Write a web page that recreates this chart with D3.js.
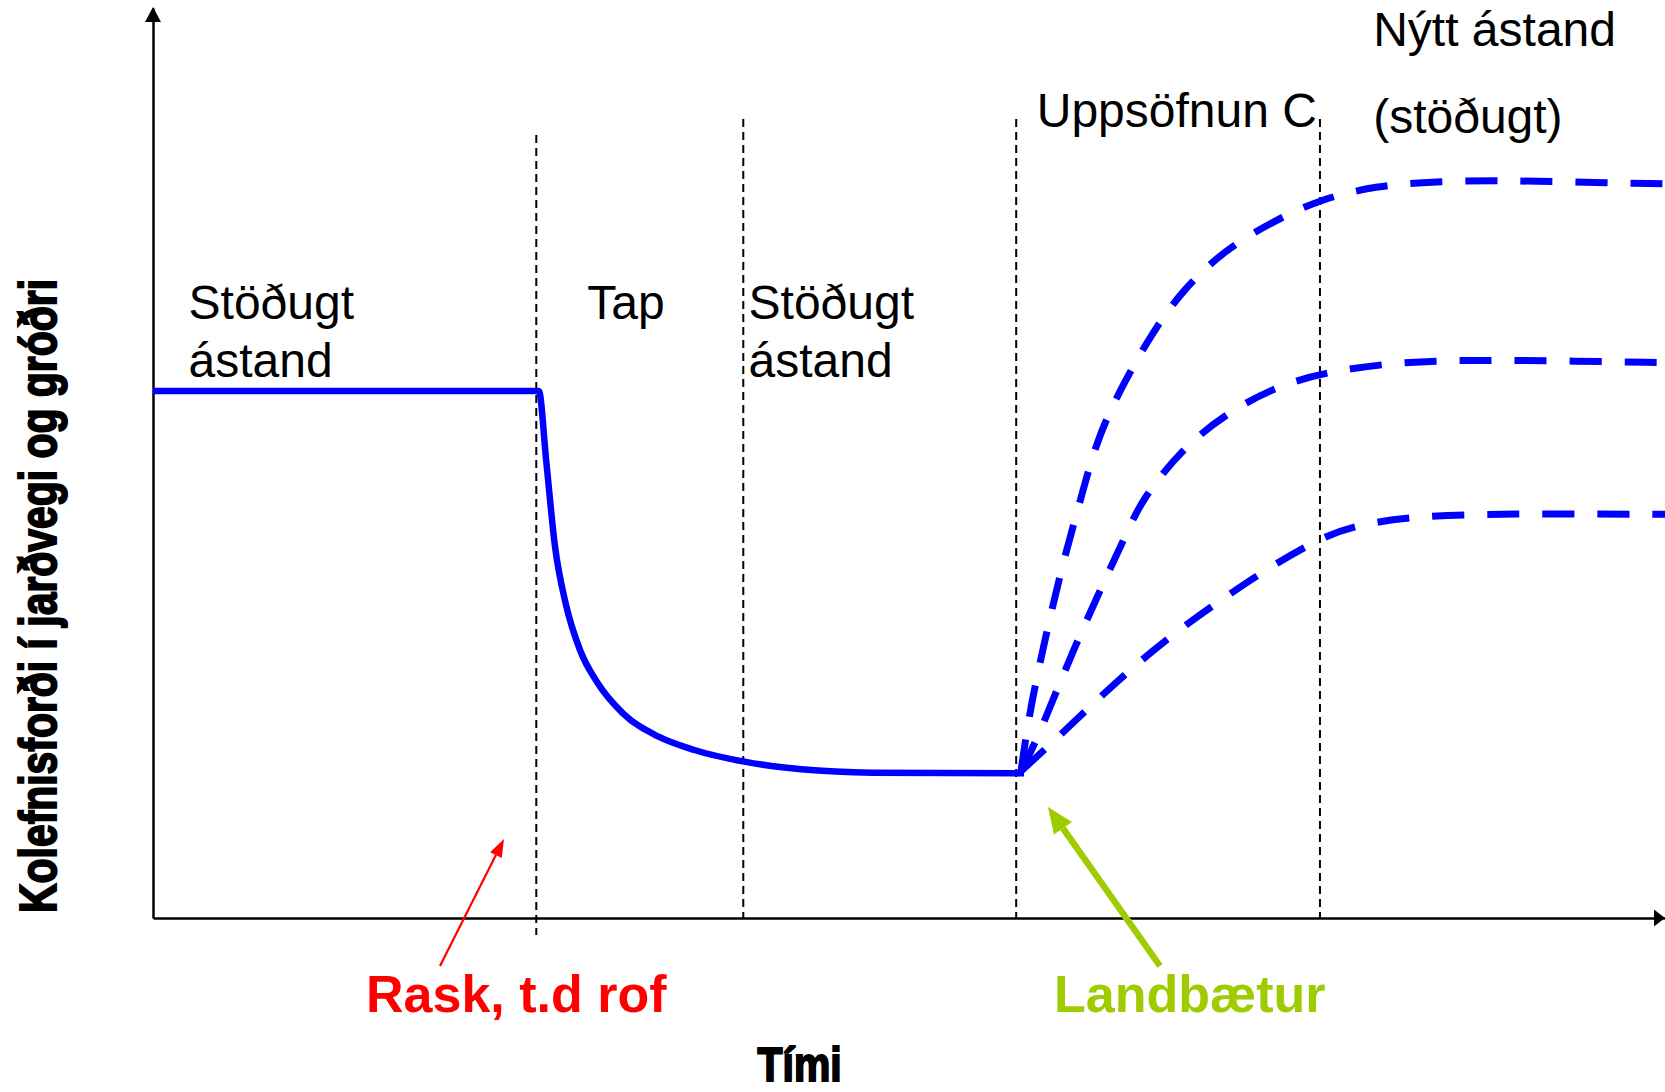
<!DOCTYPE html>
<html>
<head>
<meta charset="utf-8">
<script src="https://cdn.jsdelivr.net/npm/d3@7"></script>
<style>
  body { margin: 0; background: #fff; }
  svg { display: block; }
  .lbl { font-family: "Liberation Sans", Arial, sans-serif; font-size: 48px; fill: #000; }
  .heavy { font-family: "Liberation Sans Narrow", "Liberation Sans", sans-serif; font-weight: bold; fill: #000; stroke: #000; stroke-width: 2px; }
</style>
</head>
<body>
<div id="chart"></div>
<script>
// phase boundaries on the time axis
var phaseBounds = [25.35, 39.04, 57.09, 77.18];

// carbon stock before disturbance, loss, and low steady state (time, carbon)
var lossCurve = [
  [0, 57.91], [25.52, 57.91], [26.0, 50.33], [26.59, 40.8], [27.29, 34.58],
  [28.24, 29.45], [29.42, 25.79], [31.08, 22.49], [33.44, 19.92], [35.8, 18.46],
  [39.11, 17.18], [42.88, 16.34], [47.61, 15.97], [57.61, 15.9]
];

// three possible recovery paths after reclamation
var recoveryHigh = [
  [57.41, 16.15], [57.89, 21.76], [58.62, 27.8], [59.44, 33.85], [60.32, 39.89],
  [61.34, 45.93], [62.5, 53.0], [64.23, 58.89], [66.11, 64.38], [68.13, 69.09],
  [70.87, 73.41], [74.05, 76.55], [77.37, 79.1], [80.99, 80.47], [84.74, 80.95],
  [89.37, 81.05], [93.7, 80.87], [100, 80.69]
];
var recoveryMid = [
  [57.41, 16.15], [58.45, 19.56], [59.87, 25.42], [61.31, 31.1], [62.85, 36.78],
  [64.4, 42.27], [65.38, 45.93], [67.99, 51.43], [70.87, 55.35], [74.34, 58.49],
  [77.81, 60.07], [82.14, 61.04], [86.48, 61.32], [92.26, 61.24], [100, 61.04]
];
var recoveryLow = [
  [57.41, 16.15], [59.44, 19.2], [62.19, 23.59], [64.83, 27.62], [67.82, 31.65],
  [70.79, 35.13], [73.88, 38.6], [77.18, 41.73], [79.54, 43.19], [83.59, 44.18],
  [89.37, 44.44], [100, 44.36]
];

// phase labels: time, carbon, lines
var phaseLabels = [
  { t: 2.35, c: 65.8, lines: ["Stöðugt", "ástand"] },
  { t: 28.72, c: 65.8, lines: ["Tap"] },
  { t: 39.39, c: 65.8, lines: ["Stöðugt", "ástand"] },
  { t: 58.45, c: 86.95, lines: ["Uppsöfnun C"] },
  { t: 80.7, c: 95.8, lines: ["Nýtt ástand"] },
  { t: 80.7, c: 86.3, lines: ["(stöðugt)"] }
];

var yTitle = "Kolefnisforði í jarðvegi og gróðri";
var xTitle = "Tími";

var W = 1665, H = 1092;
var svg = d3.select('#chart').append('svg').attr('width', W).attr('height', H);

var x = d3.scaleLinear().domain([0, 100]).range([153, 1665]);
var y = d3.scaleLinear().domain([0, 100]).range([918, 8]);

// axes, drawn as bare domain lines with arrow heads
svg.append('g').attr('transform', 'translate(0,' + y(0) + ')')
  .call(d3.axisBottom(x).tickValues([]).tickSizeOuter(0))
  .select('.domain').attr('stroke', '#000').attr('stroke-width', 2.5);
svg.append('g').attr('transform', 'translate(' + x(0) + ',0)')
  .call(d3.axisLeft(y).tickValues([]).tickSizeOuter(0))
  .select('.domain').attr('stroke', '#000').attr('stroke-width', 2.5);
svg.append('path').attr('d', 'M' + (x(100)) + ',' + y(0) + 'l-11,-8.5l0,17z').attr('fill', '#000');
svg.append('path').attr('d', 'M' + x(0) + ',' + (y(100) - 1) + 'l-8,15l16,0z').attr('fill', '#000');

// dashed phase boundaries
svg.selectAll('.bound').data(phaseBounds).enter().append('line')
  .attr('class', 'bound')
  .attr('x1', function(d) { return x(d); }).attr('x2', function(d) { return x(d); })
  .attr('y1', function(d, i) { return i == 0 ? 135 : 119; })
  .attr('y2', function(d, i) { return i == 0 ? 935 : y(0); })
  .attr('stroke', '#000').attr('stroke-width', 2).attr('stroke-dasharray', '8,5');

var line = d3.line().x(function(d) { return x(d[0]); }).y(function(d) { return y(d[1]); }).curve(d3.curveMonotoneX);

svg.append('path').datum(lossCurve).attr('d', line)
  .attr('fill', 'none').attr('stroke', '#0000ff').attr('stroke-width', 6.5);

svg.selectAll('.rec').data([recoveryHigh, recoveryMid, recoveryLow]).enter().append('path')
  .attr('class', 'rec').attr('d', d3.line().x(function(d) { return x(d[0]); }).y(function(d) { return y(d[1]); }).curve(d3.curveBasis))
  .attr('fill', 'none').attr('stroke', '#0000ff').attr('stroke-width', 7).attr('stroke-dasharray', '32,23');

// phase labels
phaseLabels.forEach(function(p) {
  var t = svg.append('text').attr('class', 'lbl').attr('x', x(p.t)).attr('y', y(p.c));
  p.lines.forEach(function(s, i) {
    t.append('tspan').attr('x', x(p.t)).attr('dy', i == 0 ? 0 : 57.4).text(s);
  });
});

// annotation arrows
function arrow(x1, y1, x2, y2, color, w, hl, hw) {
  var a = Math.atan2(y2 - y1, x2 - x1);
  var bx = x2 - hl * Math.cos(a), by = y2 - hl * Math.sin(a);
  svg.append('line').attr('x1', x1).attr('y1', y1).attr('x2', bx).attr('y2', by)
    .attr('stroke', color).attr('stroke-width', w);
  var px = Math.sin(a) * hw / 2, py = -Math.cos(a) * hw / 2;
  svg.append('path').attr('d', 'M' + x2 + ',' + y2 + 'L' + (bx + px) + ',' + (by + py) + 'L' + (bx - px) + ',' + (by - py) + 'Z')
    .attr('fill', color);
}
arrow(440, 966, 504, 839, '#ff0000', 2.2, 18, 13);
arrow(1160, 966, 1048, 807, '#9fcc00', 6.5, 26, 22);

svg.append('text').attr('x', 366).attr('y', 1012).attr('fill', '#ff0000')
  .style('font-family', '"Liberation Sans", Arial, sans-serif').style('font-weight', 'bold').style('font-size', '52px')
  .text('Rask, t.d rof');
svg.append('text').attr('x', 1054).attr('y', 1012).attr('fill', '#9fcc00')
  .style('font-family', '"Liberation Sans", Arial, sans-serif').style('font-weight', 'bold').style('font-size', '52px')
  .text('Landbætur');

// axis titles
svg.append('text').attr('class', 'heavy').attr('x', 799.6).attr('y', 1081)
  .attr('text-anchor', 'middle').style('font-size', '48px')
  .attr('textLength', 84).attr('lengthAdjust', 'spacingAndGlyphs').text(xTitle);
svg.append('text').attr('class', 'heavy').attr('transform', 'translate(56,596) rotate(-90)')
  .attr('text-anchor', 'middle').style('font-size', '52px')
  .attr('textLength', 634).attr('lengthAdjust', 'spacingAndGlyphs').text(yTitle);
</script>
</body>
</html>
